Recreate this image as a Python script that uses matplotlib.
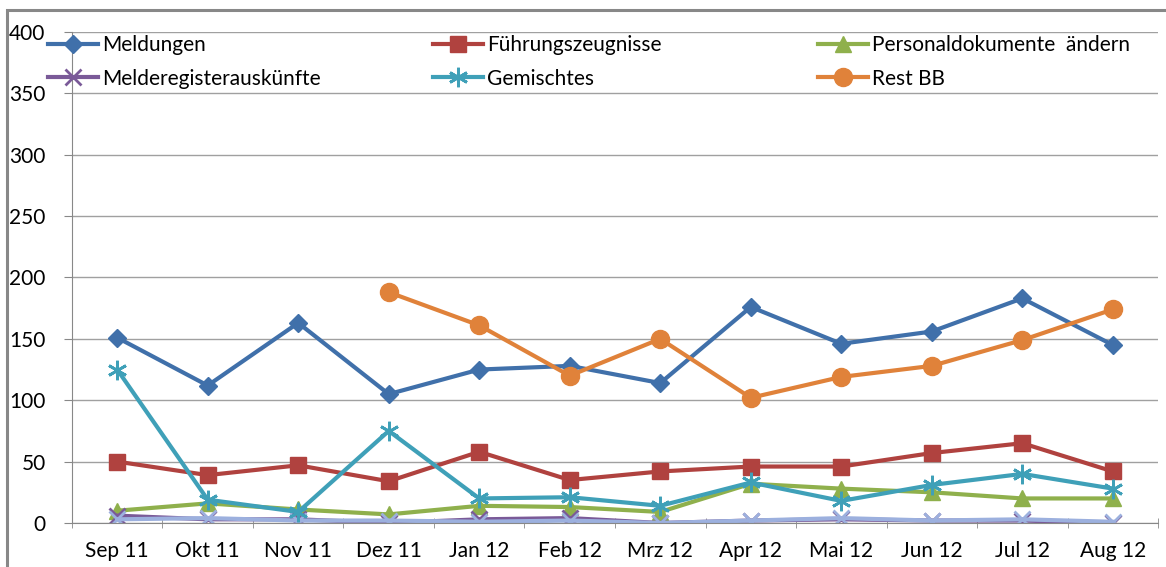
import numpy as np
import matplotlib.pyplot as plt
from matplotlib.patches import Rectangle

plt.rcParams['font.family'] = ['Lato', 'DejaVu Sans']

months = ['Sep 11', 'Okt 11', 'Nov 11', 'Dez 11', 'Jan 12', 'Feb 12',
          'Mrz 12', 'Apr 12', 'Mai 12', 'Jun 12', 'Jul 12', 'Aug 12']

meldungen = [151, 112, 163, 105, 125, 128, 114, 176, 146, 156, 183, 145]
fuehrung = [50, 39, 47, 34, 58, 35, 42, 46, 46, 57, 65, 42]
personal = [10, 16, 11, 7, 14, 13, 9, 32, 28, 25, 20, 20]
melderegister = [6, 3, 3, 0, 3, 4, 0, 2, 3, 2, 2, 0]
gemischtes = [125, 19, 9, 75, 20, 21, 14, 33, 18, 31, 40, 28]
rest_bb = [np.nan, np.nan, np.nan, 188, 161, 120, 150, 102, 119, 128, 149, 174]
sonstige = [3, 4, 2, 2, 1, 2, 0, 2, 4, 2, 3, 1]

x = np.arange(len(months))

fig = plt.figure(figsize=(11.66, 5.67), dpi=100)
ax = fig.add_axes([0.0617, 0.0776, 0.9315, 0.866])

fig.patches.append(Rectangle((0.006, -0.01), 1.1, 0.992, transform=fig.transFigure,
                             fill=False, edgecolor='#888888', lw=2.2))

lw = 3
l1, = ax.plot(x, meldungen, color='#4070AA', lw=lw, marker='D', ms=9, label='Meldungen')
l2, = ax.plot(x, fuehrung, color='#B0423F', lw=lw, marker='s', ms=11, label='Führungszeugnisse')
l3, = ax.plot(x, personal, color='#8FB04C', lw=lw, marker='^', ms=11, label='Personaldokumente  ändern')
l4, = ax.plot(x, melderegister, color='#7A5A98', lw=lw, marker='x', ms=11, mew=2, label='Melderegisterauskünfte')
ax.plot(x, sonstige, color='#9CB0DE', lw=lw, marker='x', ms=11, mew=2)
l5, = ax.plot(x, gemischtes, color='#3FA0B8', lw=lw, marker=(6, 2, 0), ms=14, mew=2, label='Gemischtes')
l6, = ax.plot(x, rest_bb, color='#E0823A', lw=lw, marker='o', ms=13, label='Rest BB')

ax.set_xlim(-0.5, len(months) - 0.5)
ax.set_ylim(0, 400)
ax.set_yticks(range(0, 401, 50))
ax.set_xticks(x)
ax.set_xticklabels(months)
ax.set_xticks(np.arange(-0.5, len(months), 1), minor=True)
ax.tick_params(axis='x', which='major', length=0, labelsize=15, pad=13)
ax.tick_params(axis='x', which='minor', length=7, direction='inout', color='#888888')
ax.tick_params(axis='y', length=6, color='#888888', labelsize=15, pad=13)
ax.grid(axis='y', color='#A0A0A0', lw=1)
ax.set_axisbelow(True)
for s in ['top', 'right']:
    ax.spines[s].set_visible(False)
for s in ['left', 'bottom']:
    ax.spines[s].set_color('#888888')

# three legend columns with equal spacing, like Excel
W, H = 1166, 567
cols = [[l1, l4], [l2, l5], [l3, l6]]
col_x = [48, 433, 818]
for i, (hs, cx) in enumerate(zip(cols, col_x)):
    leg = fig.legend(handles=hs, loc='upper left', bbox_to_anchor=(cx / W, 1 - 35 / H),
                     frameon=False, fontsize=15, handlelength=2.4, handletextpad=0.2,
                     labelspacing=0.65, borderaxespad=0, borderpad=0)

fig.savefig('out.png', dpi=100)
